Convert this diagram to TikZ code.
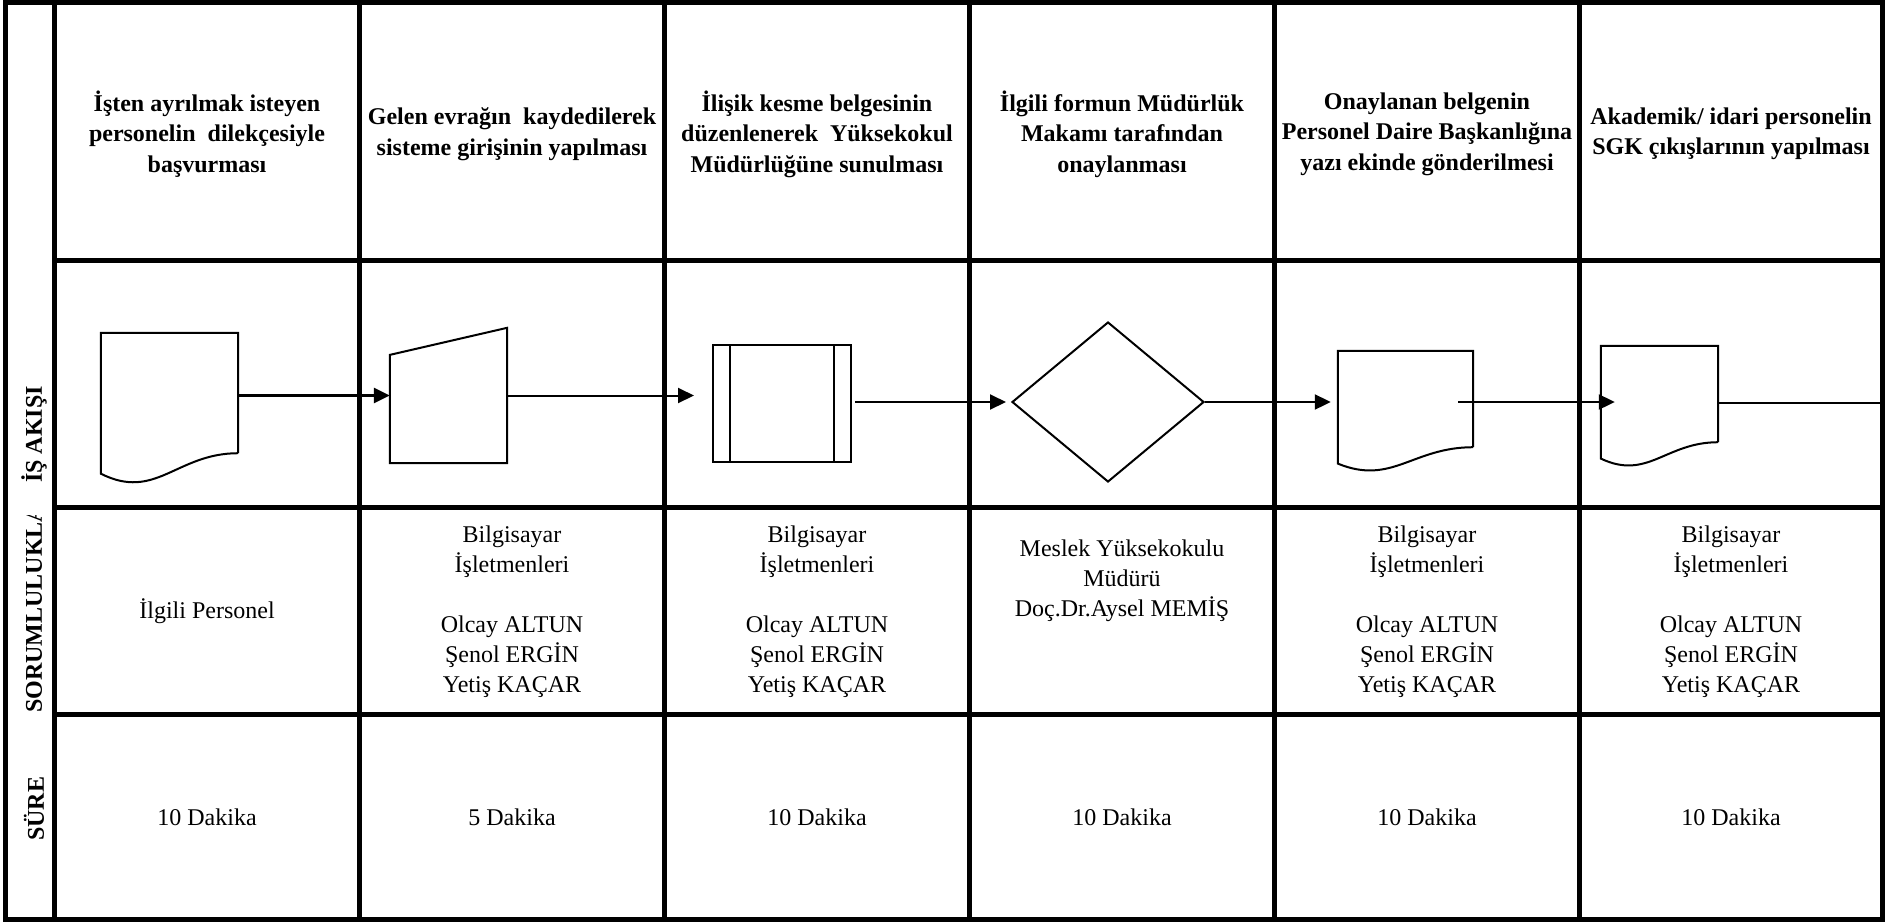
\documentclass[tikz,border=0pt]{standalone}
\usepackage{fontspec}
\setmainfont{Liberation Serif}
\usetikzlibrary{arrows.meta, shapes.geometric, calc}
\newcommand{\staffnames}{Bilgisayar\\İşletmenleri\\[30pt]Olcay ALTUN\\Şenol ERGİN\\Yetiş KAÇAR}
% document symbol drawn on an empty box node
\newcommand{\docoutline}[1]{%
  \draw[shapeline] let \p1=(#1.south west), \p2=(#1.north east),
      \n1={\x2-\x1}, \n2={\y2-\y1} in
    (\x2,\y1) -- (\x2,\y2) -- (\x1,\y2) -- (\x1,\y1-0.17*\n2)
    .. controls (\x1+0.4*\n1,\y1-0.4*\n2) and (\x1+0.55*\n1,\y1) .. (\x2,\y1);}
\tikzset{
  gridline/.style={line width=5pt},
  shapeline/.style={line width=2pt},
  shapebox/.style={rectangle, inner sep=0pt},
  flowarr/.style={-{Triangle[length=16pt, width=15pt]}, line width=2pt},
  headtext/.style={font=\fontsize{24}{30.5}\selectfont\bfseries, align=center},
  celltext/.style={font=\fontsize{24}{30}\selectfont, align=center},
  sidelabel/.style={font=\fontsize{24}{28}\selectfont\bfseries, rotate=90, anchor=west, inner sep=0pt},
}
\begin{document}
\begin{tikzpicture}[x=1pt, y=-1pt]
  \useasboundingbox (0,0) rectangle (1885,922);
  % table frame
  \draw[gridline] (5,2.5) rectangle (1882.5,919.5);
  \draw[gridline] (54.5,2.5) -- (54.5,919.5) (359.5,2.5) -- (359.5,919.5)
    (664.5,2.5) -- (664.5,919.5) (969.5,2.5) -- (969.5,919.5)
    (1274.5,2.5) -- (1274.5,919.5) (1579.5,2.5) -- (1579.5,919.5);
  \draw[gridline] (54.5,260.5) -- (1882.5,260.5) (54.5,507.5) -- (1882.5,507.5)
    (54.5,714.5) -- (1882.5,714.5);

  % row titles
  \node[sidelabel] (lsure) at (34,841) {SÜRE};
  \begin{scope}
    \clip (0,515) rectangle (54,922);
    \node[sidelabel] (lsorum) at (34,713) {SORUMLULUKLAR};
  \end{scope}
  \node[sidelabel] (lakis) at (34,483) {İŞ AKIŞI};

  % steps
  \node[headtext] (h1) at (207,134) {İşten ayrılmak isteyen\\personelin\ \ dilekçesiyle\\başvurması};
  \node[headtext] (h2) at (512,134) {Gelen evrağın\ \ kaydedilerek\\sisteme girişinin yapılması};
  \node[headtext] (h3) at (817,134) {İlişik kesme belgesinin\\düzenlenerek\ \ Yüksekokul\\Müdürlüğüne sunulması};
  \node[headtext] (h4) at (1122,134) {İlgili formun Müdürlük\\Makamı tarafından\\onaylanması};
  \node[headtext] (h5) at (1427,134) {Onaylanan belgenin\\Personel Daire Başkanlığına\\yazı ekinde gönderilmesi};
  \node[headtext] (h6) at (1731,134) {Akademik/ idari personelin\\SGK çıkışlarının yapılması};

  % flow symbols
  \node[shapebox, minimum width=137pt, minimum height=120pt] (doc1) at (169.5,393) {};
  \docoutline{doc1}
  \node[shapebox, minimum width=117pt, minimum height=135pt] (trap2) at (448.5,395.5) {};
  \draw[shapeline] (trap2.south west) -- ($(trap2.north west)!0.2!(trap2.south west)$)
    -- (trap2.north east) -- (trap2.south east) -- cycle;
  \node[shapebox, draw, shapeline, minimum width=138pt, minimum height=117pt] (proc3) at (782,403.5) {};
  \draw[shapeline] ([xshift=18pt]proc3.north west) -- ([xshift=18pt]proc3.south west);
  \draw[shapeline] ([xshift=-18pt]proc3.north east) -- ([xshift=-18pt]proc3.south east);
  \node[diamond, draw, shapeline, inner sep=0pt, aspect=1.2, minimum width=192pt, minimum height=160pt] (dec4) at (1108,402) {};
  \node[shapebox, minimum width=135pt, minimum height=96pt] (doc5) at (1405.5,399) {};
  \docoutline{doc5}
  \node[shapebox, minimum width=117pt, minimum height=96pt] (doc6) at (1659.5,394) {};
  \docoutline{doc6}
  \coordinate (exit6) at (1882,403);

  \draw[flowarr, line width=3pt] (trap2.west -| doc1.east) -- (trap2.west);
  \draw[flowarr, shorten >=18pt] (trap2.east) -- (trap2.east -| proc3.west);
  \draw[flowarr, shorten <=3pt, shorten >=5pt] (dec4.west -| proc3.east) -- (dec4.west);
  \draw[flowarr, shorten >=7pt] (dec4.east) -- (dec4.east -| doc5.west);
  \draw[flowarr, shorten <=-15pt, shorten >=-14pt] ([yshift=-3pt]doc5.east) -- ([yshift=-3pt]doc5.east -| doc6.west);
  \draw[shapeline] (exit6 -| doc6.east) -- (exit6);

  % responsibilities
  \node[celltext] (r1) at (207,611) {İlgili Personel};
  \node[celltext] (r2) at (512,612) {\staffnames};
  \node[celltext] (r3) at (817,612) {\staffnames};
  \node[celltext] (r4) at (1122,581) {Meslek Yüksekokulu\\Müdürü\\Doç.Dr.Aysel MEMİŞ};
  \node[celltext] (r5) at (1427,612) {\staffnames};
  \node[celltext] (r6) at (1731,612) {\staffnames};

  % durations
  \node[celltext] (t1) at (207,817) {10 Dakika};
  \node[celltext] (t2) at (512,817) {5 Dakika};
  \node[celltext] (t3) at (817,817) {10 Dakika};
  \node[celltext] (t4) at (1122,817) {10 Dakika};
  \node[celltext] (t5) at (1427,817) {10 Dakika};
  \node[celltext] (t6) at (1731,817) {10 Dakika};
\end{tikzpicture}
\end{document}
